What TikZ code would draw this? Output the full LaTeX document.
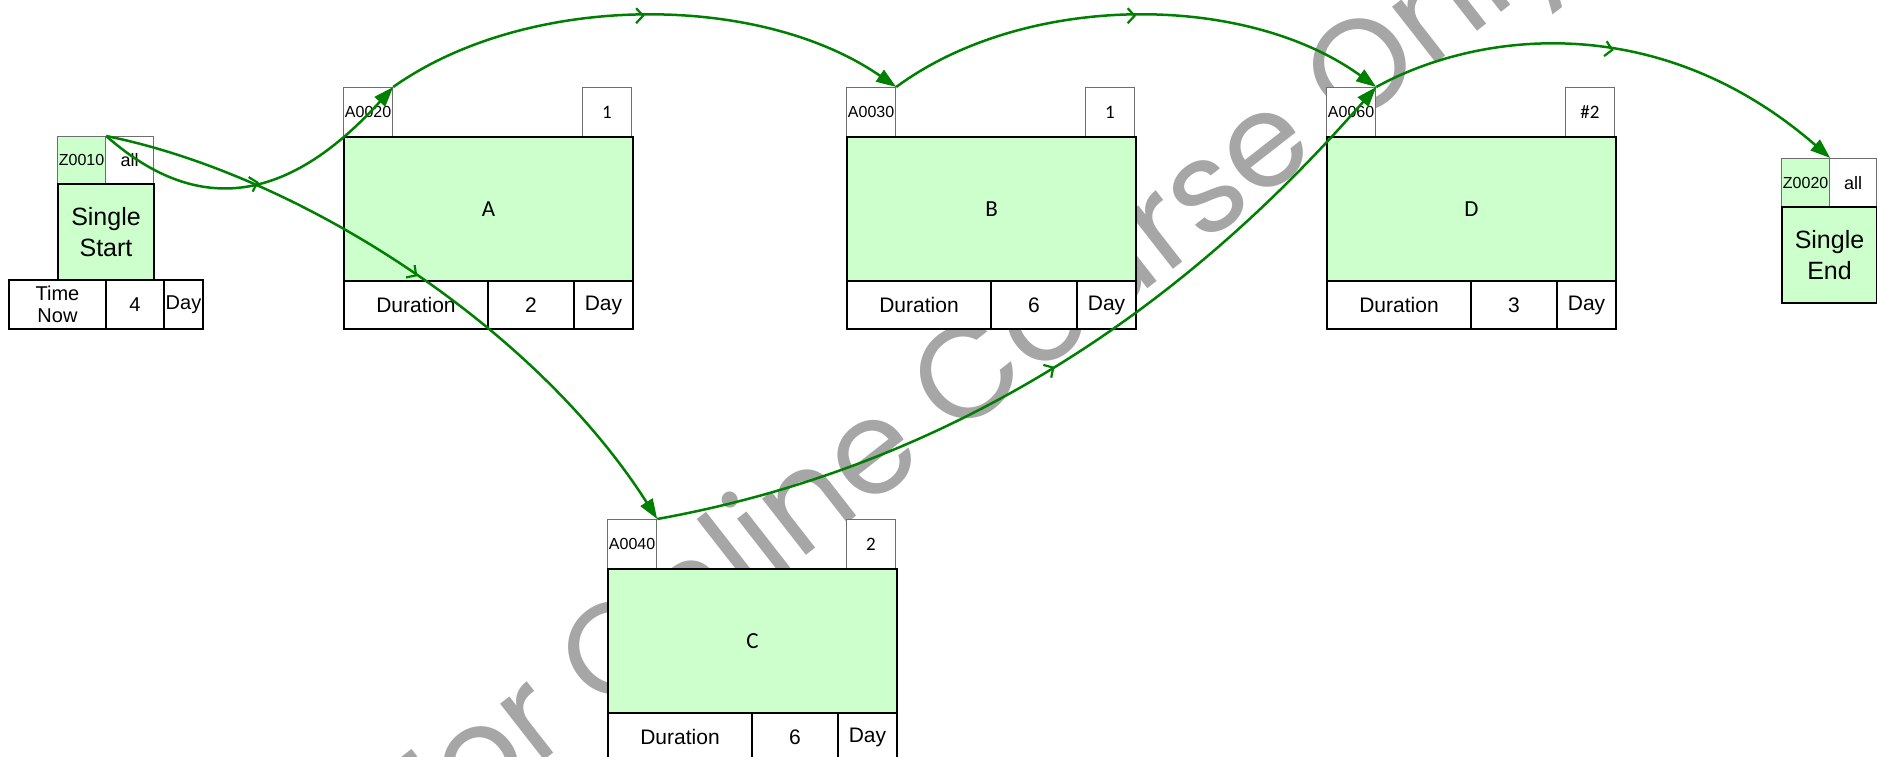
\documentclass[tikz,border=0pt]{standalone}
\usepackage{fontspec}
\setmainfont{Liberation Sans}
\newfontfamily\calib{Carlito}
\newfontfamily\wmfont{Poppins}
\usetikzlibrary{arrows.meta,decorations.markings}
\definecolor{actgreen}{HTML}{CCFFCC}
\definecolor{linkgreen}{HTML}{008000}
\definecolor{cellgray}{HTML}{6E6E6E}
\definecolor{wmgray}{HTML}{A6A6A6}
\tikzset{
  idcell/.style={draw=cellgray, line width=1.2pt, fill=white, inner sep=0pt,
    anchor=north west, minimum width=49pt, minimum height=49pt,
    font=\fontsize{16}{18}\selectfont},
  valcell/.style={idcell, font=\calib\fontsize{19}{21}\selectfont},
  mainbox/.style={draw=black, line width=2pt, fill=actgreen, inner sep=0pt,
    anchor=north west, minimum width=289pt, minimum height=144pt,
    font=\calib\fontsize{23}{25}\selectfont, align=center},
  botcell/.style={draw=black, line width=2pt, fill=white, inner sep=0pt,
    anchor=north west, minimum height=48pt,
    font=\fontsize{21}{23}\selectfont, align=center},
  link/.style={draw=linkgreen, line width=2.5pt,
    -{Triangle[length=20pt,width=14pt]},
    decoration={markings, mark=at position 0.5 with
      {\arrow{Straight Barb[length=7pt,width=15pt,line width=2.2pt]}}},
    postaction={decorate}},
  watermark/.style={text=wmgray, inner sep=0pt,
    font=\wmfont\fontsize{130}{130}\selectfont}
}
\newcommand\activitybox[7]{%
  \node[idcell] (#1-id) at (#2,#3) {#4};
  \node[valcell, anchor=north east] (#1-val) at ({#2+289},#3) {#5};
  \node[mainbox] (#1-main) at (#2,{#3+49}) {#6};
  \node[botcell, minimum width=144pt] (#1-dur) at (#2,{#3+193}) {Duration};
  \node[botcell, minimum width=86pt] (#1-num) at ({#2+144},{#3+193}) {#7};
  \node[botcell, minimum width=59pt] (#1-day) at ({#2+230},{#3+193}) {Day};
}
\begin{document}
\begin{tikzpicture}[x=1pt,y=-1pt]
\useasboundingbox (0,0) rectangle (1877,756);
\fill[white] (0,0) rectangle (1877,756);
% watermark
\node[watermark, rotate=38, anchor=base] (wm) at (998,406) {For Online Course Only};
% start node
\node[idcell, fill=actgreen, minimum width=48pt, minimum height=47pt] (z1-id) at (57,136) {Z0010};
\node[idcell, minimum width=48pt, minimum height=47pt, font=\fontsize{18}{20}\selectfont] (z1-val) at (105,136) {all};
\node[mainbox, minimum width=96pt, minimum height=96pt, font=\fontsize{25}{31}\selectfont] (z1-main) at (57,183) {Single\\Start};
\node[botcell, minimum width=97pt, minimum height=49pt, font=\fontsize{20}{22}\selectfont] (z1-tn) at (8,279) {Time\\Now};
\node[botcell, minimum width=58pt, minimum height=49pt, font=\fontsize{20}{22}\selectfont] (z1-num) at (105,279) {4};
\node[botcell, minimum width=39pt, minimum height=49pt, font=\fontsize{20}{22}\selectfont] (z1-day) at (163,279) {Day};
% activities
\activitybox{A}{343}{87}{A0020}{1}{A}{2}
\activitybox{B}{846}{87}{A0030}{1}{B}{6}
\activitybox{D}{1326}{87}{A0060}{\#2}{D}{3}
\activitybox{C}{607}{519}{A0040}{2}{C}{6}
% end node
\node[idcell, fill=actgreen, minimum width=48pt, minimum height=48pt] (z2-id) at (1781,158) {Z0020};
\node[idcell, minimum width=47pt, minimum height=48pt, font=\fontsize{18}{20}\selectfont] (z2-val) at (1829,158) {all};
\node[mainbox, minimum width=95pt, minimum height=96pt, font=\fontsize{25}{31}\selectfont] (z2-main) at (1781,206) {Single\\End};
% connectors
\draw[link] (z1-id.north east) .. controls (190,210) and (280,212) .. (A-id.north east);
\draw[link] (z1-id.north east) .. controls (300,175) and (535,327) .. (C-id.north east);
\draw[link] (A-id.north east) .. controls (527,-8) and (759,-8) .. (B-id.north east);
\draw[link] (B-id.north east) .. controls (1025,-8) and (1245,-8) .. (D-id.north east);
\draw[link] (C-id.north east) .. controls (1030,452) and (1255,225) .. (D-id.north east);
\draw[link] (D-id.north east) .. controls (1480,30) and (1660,10) .. (z2-id.north east);
\end{tikzpicture}
\end{document}
